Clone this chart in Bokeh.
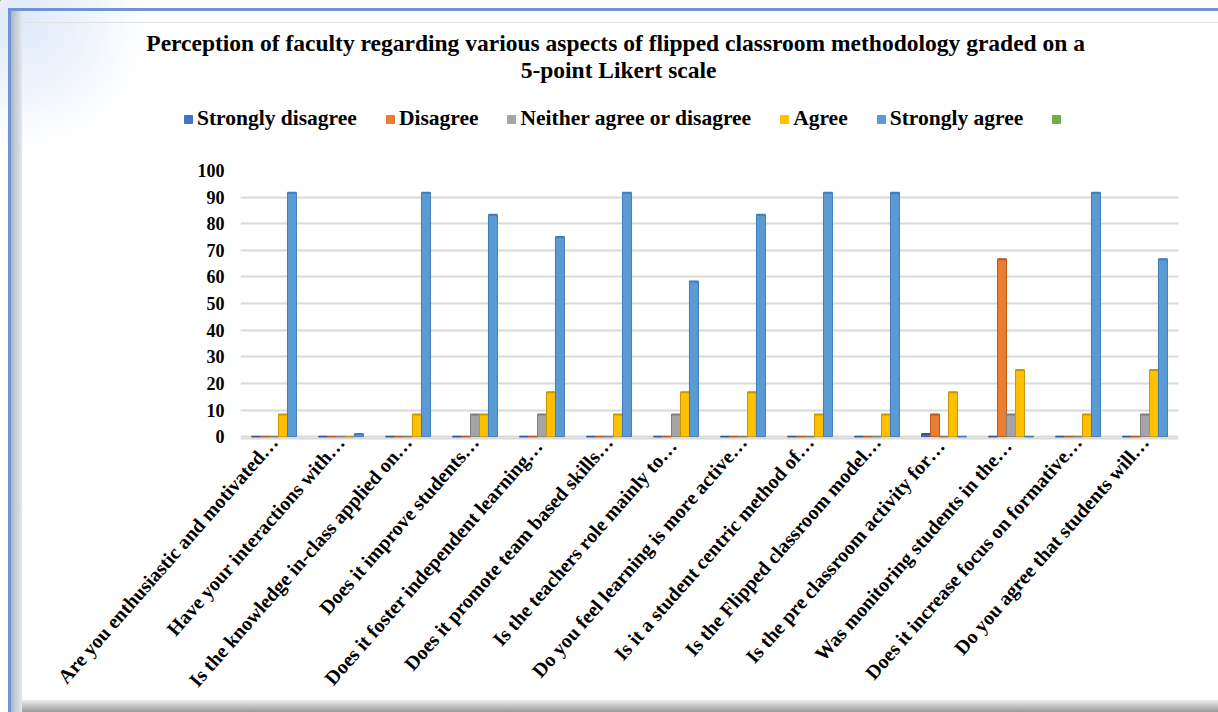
from bokeh.plotting import figure
from bokeh.layouts import column, row
from bokeh.models import (FactorRange, ColumnDataSource, Legend, LegendItem,
                          Label, FixedTicker, Range1d)
from bokeh.transform import dodge
from bokeh.embed import file_html
from bokeh.resources import INLINE

questions = [
    "Are you enthusiastic and motivated…",
    "Have your interactions with…",
    "Is the knowledge in-class applied on…",
    "Does it improve students…",
    "Does it  foster independent learning…",
    "Does it promote team based skills…",
    "Is the teachers role  mainly to…",
    "Do you feel learning is more active…",
    "Is it a student centric method of…",
    "Is the Flipped classroom model…",
    "Is the pre classroom  activity for…",
    "Was monitoring  students in the…",
    "Does it increase focus on formative…",
    "Do you agree that students will…",
]
series_names = ["Strongly disagree", "Disagree", "Neither agree or disagree",
                "Agree", "Strongly agree"]
strongly_disagree = [0, 0, 0, 0, 0, 0, 0, 0, 0, 0, 1, 0, 0, 0]
disagree = [0, 0, 0, 0, 0, 0, 0, 0, 0, 0, 8.33, 66.67, 0, 0]
neither = [0, 0, 0, 8.33, 8.33, 0, 8.33, 0, 0, 0, 0, 8.33, 0, 8.33]
agree = [8.33, 0, 8.33, 8.33, 16.67, 8.33, 16.67, 16.67, 8.33, 8.33, 16.67, 25, 8.33, 25]
strongly_agree = [91.67, 1, 91.67, 83.33, 75, 91.67, 58.33, 83.33, 91.67, 91.67, 0, 0, 91.67, 66.67]
y_ticks = [0, 10, 20, 30, 40, 50, 60, 70, 80, 90, 100]
title_line1 = "Perception of faculty regarding  various aspects of flipped  classroom methodology graded on a"
title_line2 = "5-point Likert  scale"

colors = ["#4472C4", "#ED7D31", "#A5A5A5", "#FFC000", "#5B9BD5"]
edges = ["#2F5597", "#B65A1E", "#7F7F7F", "#C99700", "#3F7DB8"]
extra_color = "#70AD47"
FONT = "Liberation Serif"

W, H = 1218, 712
HEAD = 150
FL, FR, FT, FB = 240, 1178, 170, 438

# ---------- header: title + legend ----------
hd = figure(width=W, height=HEAD, x_range=Range1d(0, W), y_range=Range1d(HEAD, 0),
            x_axis_type=None, y_axis_type=None, output_backend="svg",
            toolbar_location=None, min_border=0)
hd.background_fill_alpha = 0
hd.border_fill_alpha = 0
hd.outline_line_color = None
hd.xgrid.visible = False
hd.ygrid.visible = False

for i, t in enumerate([title_line1, title_line2]):
    hd.add_layout(Label(x=621, y=42 + 27 * i, text=t, text_align="center",
                        text_baseline="middle", text_font=FONT, text_font_style="bold",
                        text_font_size="23.5px", text_color="black"))

# legend keys: off-screen swatches that only serve the legend
keys_rs = []
for c in colors + [extra_color]:
    keys_rs.append(hd.vbar(x=[-1000], top=[-1000], bottom=[-1001], width=1,
                           fill_color=c, line_color=c))
items = [LegendItem(label=nm, renderers=[r]) for nm, r in zip(series_names, keys_rs[:5])]
items.append(LegendItem(label=" ", renderers=[keys_rs[5]]))
legend = Legend(items=items, orientation="horizontal", location=(183, 19),
                label_text_font=FONT, label_text_font_style="bold",
                label_text_font_size="21.5px", label_text_color="black",
                glyph_width=10, glyph_height=10, label_standoff=4, spacing=28,
                padding=0, margin=0, border_line_color=None, background_fill_alpha=0)
hd.add_layout(legend, "center")

# ---------- main chart ----------
source = ColumnDataSource(dict(q=questions, sd=strongly_disagree, d=disagree,
                               n=neither, a=agree, sa=strongly_agree))
keys = ["sd", "d", "n", "a", "sa"]

p = figure(width=W, height=H - HEAD, x_range=FactorRange(*questions),
           y_range=Range1d(-0.7, 100), output_backend="svg", toolbar_location=None,
           min_border_left=FL, min_border_right=W - FR,
           min_border_top=FT - HEAD, min_border_bottom=H - FB)
p.background_fill_color = "white"
p.border_fill_alpha = 0
p.outline_line_color = None

bw = 0.134
offs = [-2 * bw, -bw, 0, bw, 2 * bw]
for k, c, e, o in zip(keys, colors, edges, offs):
    p.vbar(x=dodge("q", o, range=p.x_range), top=k, bottom=0, width=bw,
           source=source, fill_color=c, line_color=e, line_width=1)
    p.segment(x0=dodge("q", o - bw / 2, range=p.x_range), x1=dodge("q", o + bw / 2, range=p.x_range),
              y0=k, y1=k, source=source, line_color=e, line_width=2)

p.yaxis.ticker = FixedTicker(ticks=y_ticks)
p.yaxis.axis_line_color = None
p.yaxis.major_tick_line_color = None
p.yaxis.minor_tick_line_color = None
p.yaxis.major_label_standoff = 10
p.yaxis.major_label_text_font = FONT
p.yaxis.major_label_text_font_style = "bold"
p.yaxis.major_label_text_font_size = "18px"
p.yaxis.major_label_text_color = "black"

p.xaxis.axis_line_color = "#d9d9d9"
p.xaxis.axis_line_width = 2
p.xaxis.major_tick_line_color = None
p.xaxis.minor_tick_line_color = None
p.xaxis.major_tick_out = 0
p.xaxis.major_label_orientation = 0.85
p.xaxis.major_label_standoff = 0
p.xaxis.major_label_text_font = FONT
p.xaxis.major_label_text_font_style = "bold"
p.xaxis.major_label_text_font_size = "20px"
p.xaxis.major_label_text_color = "black"

p.xgrid.grid_line_color = None
p.ygrid.ticker = FixedTicker(ticks=y_ticks)
p.ygrid.grid_line_color = "#d9d9d9"
p.ygrid.grid_line_width = 2

# keep the header's frame independent of the chart's frame
for f in (hd, p):
    if "frame_align" in f.properties():
        f.frame_align = False

layout = column(row(hd), p, spacing=0, styles={
    "background": (
        "linear-gradient(#6f93d6,#6f93d6) 8px 8px / 100% 3px no-repeat, "
        "linear-gradient(#6f93d6,#6f93d6) 8px 8px / 3px 100% no-repeat, "
        "linear-gradient(to right, #aeb6c4, #e4e8ee) 11px 11px / 11px 100% no-repeat, "
        "linear-gradient(#ececec, #9c9c9c) 11px 700px / 100% 12px no-repeat, "
        "linear-gradient(#e2e2e2,#e2e2e2) 22px 22px / 100% 1px no-repeat, "
        "radial-gradient(circle at 22px 22px, #dfe9f8 0px, #ffffff 130px)"
    )
})

open("out.html", "w").write(file_html(layout, INLINE))
